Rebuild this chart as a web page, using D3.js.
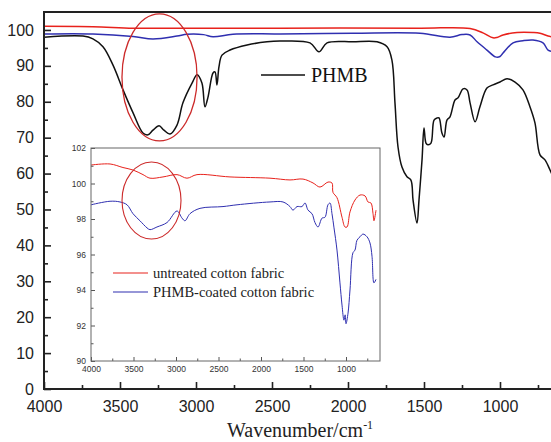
<!DOCTYPE html>
<html><head><meta charset="utf-8">
<script src="https://cdn.jsdelivr.net/npm/d3@7"></script>
<style>body{margin:0;background:#fff}svg{display:block}</style>
</head><body>
<svg id="c" width="551" height="442"></svg>
<script>
// ---------- data ----------
const phmbWN  = [4000,3743,3678,3612,3546,3480,3414,3349,3316,3283,3243,3211,3171,3125,3086,3026,2993,2961,2941,2921,2888,2875,2862,2849,2829,2776,2664,2533,2447,2250,2191,2138,1967,1809,1743,1711,1691,1671,1645,1612,1586,1572,1546,1533,1513,1500,1487,1474,1454,1434,1414,1401,1382,1368,1349,1329,1296,1276,1243,1217,1197,1164,1132,1086,1046,1000,954,901,849,803,770,737,704,671,650];
const phmbT   = [98.0,98.3,97.5,95.3,90.2,83.3,76.9,71.3,70.8,72.1,73.3,72.1,71.0,73.5,79.7,85.2,87.5,85.2,78.6,81.3,88.0,88.3,84.7,89.7,93.0,94.4,95.8,96.7,96.9,96.4,93.9,96.4,96.7,96.7,95.3,91.6,79.7,67.4,61.8,59.1,58.2,52.6,46.2,52.6,63.8,72.7,68.5,68.0,68.5,74.9,75.5,75.5,71.3,70.2,74.9,75.8,80.5,81.1,83.6,83.3,79.7,74.4,78.6,83.8,84.7,85.5,86.4,85.5,83.3,78.6,74.1,65.2,63.8,61.0,59.0];

const mainRedWN  = [4000,3678,3414,3125,2447,1526,1197,1112,1046,1020,980,888,783,737,684,650];
const mainRedT   = [101.0,100.9,100.5,100.5,100.5,100.5,100.4,99.2,97.8,97.9,98.6,99.3,99.3,99.1,98.3,98.0];
const mainBlueWN = [4000,3678,3414,3283,3125,3059,2950,2888,2757,2447,1967,1526,1329,1250,1197,1151,1086,1030,1000,980,914,849,783,717,684,650];
const mainBlueT  = [98.9,98.9,98.2,97.5,98.3,98.8,98.7,98.1,98.8,98.9,99.1,99.1,98.0,98.7,98.6,96.7,94.4,92.5,92.6,93.6,96.4,97.0,97.2,96.4,94.4,94.0];

const insetRedWN = [4000,3776,3624,3506,3388,3306,3153,2988,2871,2753,2365,1894,1659,1506,1388,1306,1212,1165,1153,1106,1047,1012,988,953,894,835,776,741,706,682,671,647];
const insetRedT  = [101.04,101.1,100.9,100.76,100.5,100.3,100.37,100.5,100.3,100.5,100.37,100.3,100.2,100.25,100.03,99.8,100.08,100.03,99.5,99.2,98.1,97.55,97.55,98.4,99.07,99.35,99.3,98.96,98.9,98.3,97.9,98.5];
const insetBlueWN = [4000,3776,3659,3576,3506,3424,3341,3306,3224,3106,2988,2929,2894,2835,2718,2447,2282,1894,1741,1659,1624,1576,1518,1482,1447,1400,1365,1329,1282,1247,1212,1188,1165,1141,1106,1071,1047,1024,1010,1000,976,953,918,894,871,835,800,753,718,694,671,647];
const insetBlueT  = [98.8,99.0,98.96,98.8,98.3,97.9,97.5,97.4,97.55,97.8,98.45,98.05,97.9,98.3,98.6,98.7,98.8,98.96,98.96,98.7,98.5,98.7,98.7,98.9,98.5,98.3,97.8,97.55,98.05,98.1,98.8,98.9,98.3,97.5,96.25,94.4,93.15,92.3,92.6,92.1,92.7,94.0,96.1,96.25,96.8,97.0,97.15,97.0,96.65,95.9,94.4,94.6];

const mainXTicks = [4000,3500,3000,2500,2000,1500,1000];
const mainYTicks = [0,10,20,30,40,50,60,70,80,90,100];
const insetXTicks = [4000,3500,3000,2500,2000,1500,1000];
const insetYTicks = [90,92,94,96,98,100,102];
const legendLabels = ["untreated cotton fabric","PHMB-coated cotton fabric"];
const seriesLabel = "PHMB";
const xTitle = "Wavenumber/cm";

// ---------- drawing ----------
const svg = d3.select("#c");
const RED = "#e8221c", BLUE = "#2f2fb0", BLACK = "#111", ELL = "#cc2a2a";

const x = d3.scaleLinear().domain([4000, 650]).range([44, 553.2]);
const y = d3.scaleLinear().domain([0, 105]).range([389, 12]);

const line = (sx, sy) => d3.line().x(d => sx(d[0])).y(d => sy(d[1])).curve(d3.curveCatmullRom.alpha(0.5));
const zip = (a, b) => a.map((v, i) => [v, b[i]]);

const main = svg.append("g");
// curves
main.append("path").attr("d", line(x, y)(zip(mainRedWN, mainRedT))).attr("fill","none").attr("stroke",RED).attr("stroke-width",1.5);
main.append("path").attr("d", line(x, y)(zip(mainBlueWN, mainBlueT))).attr("fill","none").attr("stroke",BLUE).attr("stroke-width",1.5);
main.append("path").attr("d", line(x, y)(zip(phmbWN, phmbT))).attr("fill","none").attr("stroke",BLACK).attr("stroke-width",1.5);

// axes
const fontSans = "Arial, 'Liberation Sans', sans-serif";
const fontSerif = "'Times New Roman', 'Liberation Serif', serif";
const xAxis = main.append("g").attr("transform","translate(0,389)")
  .call(d3.axisBottom(x).tickValues(mainXTicks).tickSize(-7).tickSizeOuter(0).tickPadding(12).tickFormat(d3.format("d")));
main.append("g").attr("transform","translate(0,389)")
  .call(d3.axisBottom(x).tickValues(d3.range(3750, 650, -500)).tickSize(-4).tickSizeOuter(0).tickFormat(""))
  .select(".domain").remove();
const yAxis = main.append("g").attr("transform","translate(44,0)")
  .call(d3.axisLeft(y).tickValues(mainYTicks).tickSize(-7).tickSizeOuter(0).tickPadding(10));
main.append("g").attr("transform","translate(44,0)")
  .call(d3.axisLeft(y).tickValues(d3.range(5, 105, 10)).tickSize(-4).tickSizeOuter(0).tickFormat(""))
  .select(".domain").remove();
main.selectAll(".domain").attr("d", null);
main.selectAll(".tick line").attr("stroke","#222").attr("stroke-width",1.6);
main.selectAll(".tick text").attr("font-family",fontSans).attr("font-size",16).attr("fill","#222");
// frame lines (left, bottom, top)
main.append("path").attr("d", `M${x(650)+10},${y(105)}H44V389H${x(650)+10}`)
  .attr("fill","none").attr("stroke","#222").attr("stroke-width",2);
main.selectAll(".domain").remove();

// ellipse main
const eC = {wn: 3240, t: 86.8, rwn: 247, rt: 17.7};
main.append("ellipse").attr("cx", x(eC.wn)).attr("cy", y(eC.t))
  .attr("rx", Math.abs(x(eC.wn + eC.rwn) - x(eC.wn))).attr("ry", Math.abs(y(eC.t + eC.rt) - y(eC.t)))
  .attr("fill","none").attr("stroke",ELL).attr("stroke-width",1.3);

// PHMB label
main.append("line").attr("x1",261).attr("x2",305).attr("y1",75).attr("y2",75).attr("stroke",BLACK).attr("stroke-width",1.5);
main.append("text").attr("x",311).attr("y",82).attr("font-family",fontSerif).attr("font-size",20).attr("fill","#111").text(seriesLabel);

// x title
const tt = main.append("text").attr("x",227).attr("y",437).attr("font-family",fontSerif).attr("font-size",20).attr("fill","#222");
tt.append("tspan").text(xTitle);
tt.append("tspan").attr("dy",-8).attr("font-size",12).text("-1");

// ---------- inset ----------
const xi = d3.scaleLinear().domain([4000, 600]).range([91, 380]);
const yi = d3.scaleLinear().domain([90, 102]).range([361, 148]);
const ins = svg.append("g");
ins.append("rect").attr("x",91).attr("y",148).attr("width",289).attr("height",213).attr("fill","#fff");
ins.append("path").attr("d", line(xi, yi)(zip(insetRedWN, insetRedT))).attr("fill","none").attr("stroke",RED).attr("stroke-width",1);
ins.append("path").attr("d", line(xi, yi)(zip(insetBlueWN, insetBlueT))).attr("fill","none").attr("stroke",BLUE).attr("stroke-width",1);

ins.append("g").attr("transform","translate(0,361)")
  .call(d3.axisBottom(xi).tickValues(insetXTicks).tickSize(-4).tickSizeOuter(0).tickPadding(5).tickFormat(d3.format("d")));
ins.append("g").attr("transform","translate(0,361)")
  .call(d3.axisBottom(xi).tickValues(d3.range(3750, 600, -500)).tickSize(-2.5).tickSizeOuter(0).tickFormat(""));
ins.append("g").attr("transform","translate(91,0)")
  .call(d3.axisLeft(yi).tickValues(insetYTicks).tickSize(-4).tickSizeOuter(0).tickPadding(5));
ins.append("g").attr("transform","translate(91,0)")
  .call(d3.axisLeft(yi).tickValues(d3.range(91, 102, 2)).tickSize(-2.5).tickSizeOuter(0).tickFormat(""));
ins.selectAll(".domain").remove();
ins.selectAll(".tick line").attr("stroke","#555").attr("stroke-width",1);
ins.selectAll(".tick text").attr("font-family",fontSans).attr("font-size",8.5).attr("fill","#333");
ins.append("rect").attr("x",91).attr("y",148).attr("width",289).attr("height",213).attr("fill","none").attr("stroke","#666").attr("stroke-width",1);

// inset ellipse
const eI = {wn: 3288, t: 99.04, rwn: 347, rt: 2.17};
ins.append("ellipse").attr("cx", xi(eI.wn)).attr("cy", yi(eI.t))
  .attr("rx", Math.abs(xi(eI.wn + eI.rwn) - xi(eI.wn))).attr("ry", Math.abs(yi(eI.t + eI.rt) - yi(eI.t)))
  .attr("fill","none").attr("stroke",ELL).attr("stroke-width",1.1);

// legend
[RED, BLUE].forEach((c, i) => {
  const ly = 273 + i * 19;
  ins.append("line").attr("x1",113).attr("x2",148).attr("y1",ly).attr("y2",ly).attr("stroke",c).attr("stroke-width",1.2);
  ins.append("text").attr("x",153).attr("y",ly+5).attr("font-family",fontSerif).attr("font-size",14.5).attr("fill","#222").text(legendLabels[i]);
});
</script>
</body></html>
